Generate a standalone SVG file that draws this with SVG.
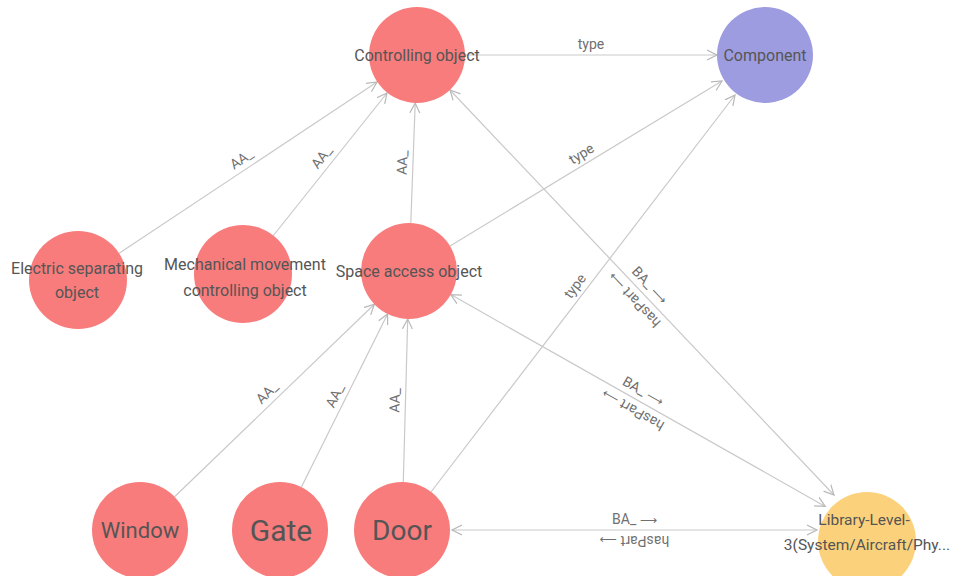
<svg xmlns="http://www.w3.org/2000/svg" width="954" height="576" viewBox="0 0 954 576">
  <style>
    .edge { stroke: #c9c9c9; stroke-width: 1.2; fill: none; }
    .elabel { font-family: Roboto, "Liberation Sans", sans-serif; font-size: 14px; fill: #707070; text-anchor: middle; }
    .arr { font-family: "DejaVu Sans", sans-serif; font-size: 12px; }
    .nlabel { font-family: Roboto, "Liberation Sans", sans-serif; font-size: 16px; fill: #555555; text-anchor: middle; dominant-baseline: central; }
    .red { fill: #f87c7c; }
    .blue { fill: #9e9ce0; }
    .yellow { fill: #fbd27b; }
  </style>
  <defs>
    <marker id="arrow" markerUnits="userSpaceOnUse" markerWidth="12" markerHeight="12" refX="10" refY="5" orient="auto-start-reverse" viewBox="0 0 12 10">
      <path d="M0,0 L10,5 L0,10" fill="none" stroke="#b8b8b8" stroke-width="1.2"/>
    </marker>
  </defs>

  <rect width="954" height="576" fill="#ffffff"/>

  <g id="connectors">
    <!-- Controlling object -> Component -->
    <line class="edge" x1="465" y1="55" x2="717" y2="55" marker-end="url(#arrow)"/>
    <g transform="translate(591,55)"><text class="elabel" y="-6">type</text></g>

    <!-- Electric separating object -> Controlling object -->
    <line class="edge" x1="118" y1="254" x2="377" y2="82" marker-end="url(#arrow)"/>
    <g transform="translate(247.5,168) rotate(-33.7)"><text class="elabel" y="-6">AA_</text></g>

    <!-- Mechanical movement controlling object -> Controlling object -->
    <line class="edge" x1="273" y1="236" x2="387" y2="93" marker-end="url(#arrow)"/>
    <g transform="translate(330,164) rotate(-51.4)"><text class="elabel" y="-6">AA_</text></g>

    <!-- Space access object -> Controlling object -->
    <line class="edge" x1="410.8" y1="223" x2="415.2" y2="103" marker-end="url(#arrow)"/>
    <g transform="translate(413,163) rotate(-87.9)"><text class="elabel" y="-6">AA_</text></g>

    <!-- Space access object -> Component -->
    <line class="edge" x1="450" y1="246" x2="722" y2="81" marker-end="url(#arrow)"/>
    <g transform="translate(587,163) rotate(-31.2)"><text class="elabel" y="-6">type</text></g>

    <!-- Door -> Component -->
    <line class="edge" x1="431" y1="492" x2="735" y2="95" marker-end="url(#arrow)"/>
    <g transform="translate(583.5,292.5) rotate(-52.6)"><text class="elabel" y="-6">type</text></g>

    <!-- Window -> Space access object -->
    <line class="edge" x1="174.6" y1="496.7" x2="374.4" y2="304.3" marker-end="url(#arrow)"/>
    <g transform="translate(274.5,400.5) rotate(-43.9)"><text class="elabel" y="-6">AA_</text></g>

    <!-- Gate -> Space access object -->
    <line class="edge" x1="301.4" y1="487" x2="387.6" y2="314" marker-end="url(#arrow)"/>
    <g transform="translate(344.5,400.5) rotate(-63.5)"><text class="elabel" y="-6">AA_</text></g>

    <!-- Door -> Space access object -->
    <line class="edge" x1="403.3" y1="482" x2="407.7" y2="319" marker-end="url(#arrow)"/>
    <g transform="translate(405.5,400.5) rotate(-88.5)"><text class="elabel" y="-6">AA_</text></g>

    <!-- Controlling object <-> Library-Level-3 -->
    <line class="edge" x1="450" y1="90" x2="834" y2="495" marker-start="url(#arrow)" marker-end="url(#arrow)"/>
    <g transform="translate(642,292.5) rotate(46.5)"><text class="elabel" y="-6">BA_ <tspan class="arr">⟶</tspan></text></g>
    <g transform="translate(642,292.5) rotate(226.5)"><text class="elabel" y="-6">hasPart <tspan class="arr">⟶</tspan></text></g>

    <!-- Space access object <-> Library-Level-3 -->
    <line class="edge" x1="450.8" y1="294.6" x2="825.2" y2="506.4" marker-start="url(#arrow)" marker-end="url(#arrow)"/>
    <g transform="translate(638,400.5) rotate(29.5)"><text class="elabel" y="-6">BA_ <tspan class="arr">⟶</tspan></text></g>
    <g transform="translate(638,400.5) rotate(209.5)"><text class="elabel" y="-6">hasPart <tspan class="arr">⟶</tspan></text></g>

    <!-- Door <-> Library-Level-3 -->
    <line class="edge" x1="452" y1="530" x2="817" y2="530" marker-start="url(#arrow)" marker-end="url(#arrow)"/>
    <g transform="translate(634.5,530)"><text class="elabel" y="-6">BA_ <tspan class="arr">⟶</tspan></text></g>
    <g transform="translate(634.5,530) rotate(180)"><text class="elabel" y="-6">hasPart <tspan class="arr">⟶</tspan></text></g>
  </g>

  <g id="node-controlling-object">
    <circle class="red" cx="417" cy="55" r="48"/>
    <text class="nlabel" x="417" y="55">Controlling object</text>
  </g>
  <g id="node-component">
    <circle class="blue" cx="765" cy="55" r="48"/>
    <text class="nlabel" x="765" y="55">Component</text>
  </g>
  <g id="node-electric-separating-object">
    <circle class="red" cx="78" cy="280" r="49"/>
    <text class="nlabel" x="77" y="268">Electric separating</text>
    <text class="nlabel" x="77" y="292">object</text>
  </g>
  <g id="node-mechanical-movement">
    <circle class="red" cx="243" cy="274" r="49"/>
    <text class="nlabel" x="245" y="264">Mechanical movement</text>
    <text class="nlabel" x="245" y="290">controlling object</text>
  </g>
  <g id="node-space-access-object">
    <circle class="red" cx="409" cy="271" r="48"/>
    <text class="nlabel" x="409" y="271">Space access object</text>
  </g>
  <g id="node-window">
    <circle class="red" cx="140" cy="530" r="48"/>
    <text class="nlabel" x="140" y="530" style="font-size:22px">Window</text>
  </g>
  <g id="node-gate">
    <circle class="red" cx="280" cy="530" r="48"/>
    <text class="nlabel" x="281" y="530" style="font-size:30px">Gate</text>
  </g>
  <g id="node-door">
    <circle class="red" cx="402" cy="530" r="48"/>
    <text class="nlabel" x="402" y="530" style="font-size:28px">Door</text>
  </g>
  <g id="node-library-level-3">
    <circle class="yellow" cx="867" cy="541" r="49"/>
    <text class="nlabel" x="864" y="520" style="font-size:15.5px">Library-Level-</text>
    <text class="nlabel" x="867" y="545" style="font-size:15.5px">3(System/Aircraft/Phy...</text>
  </g>
</svg>
